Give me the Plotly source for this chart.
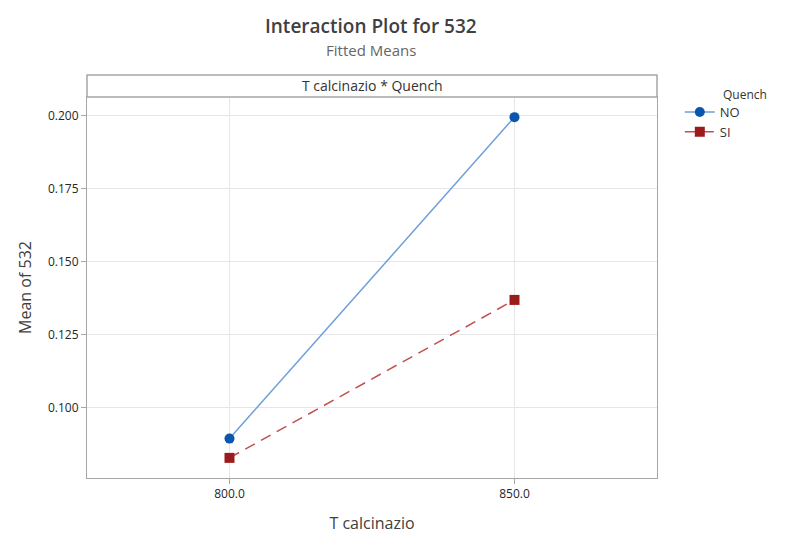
import plotly.graph_objects as go

# Fitted means for the T calcinazio * Quench interaction
t_levels = [800, 850]
t_labels = ["800.0", "850.0"]
mean_no = [0.0895, 0.1996]
mean_si = [0.0829, 0.1370]
y_ticks = [0.100, 0.125, 0.150, 0.175, 0.200]
y_tick_labels = ["0.100", "0.125", "0.150", "0.175", "0.200"]

FONT = "Open Sans, Noto Sans, sans-serif"
FRAME = "#a6a6a6"

fig = go.Figure()
fig.add_trace(go.Scatter(
    x=t_levels, y=mean_no, name="NO", mode="lines+markers",
    line=dict(color="#6f9fd8", width=1.5),
    marker=dict(symbol="circle", size=10, color="#0a56ad"),
))
fig.add_trace(go.Scatter(
    x=t_levels, y=mean_si, name="SI", mode="lines+markers",
    line=dict(color="#c0504d", width=1.5, dash="11px,7px"),
    marker=dict(symbol="square", size=10, color="#9b1a1a"),
))

fig.update_layout(
    width=788, height=535,
    margin=dict(l=87, r=131, t=97, b=57),
    paper_bgcolor="white", plot_bgcolor="white",
    font=dict(family=FONT, color="#333333"),
    showlegend=True,
    legend=dict(
        x=1.04, y=1.0, xanchor="left", yanchor="top",
        font=dict(size=13, color="#333333"),
        bgcolor="rgba(0,0,0,0)", tracegroupgap=0,
        itemwidth=30,
    ),
    xaxis=dict(
        range=[775, 875], tickvals=t_levels, ticktext=t_labels,
        showgrid=True, gridcolor="#e6e6e6", gridwidth=1,
        showline=True, linecolor=FRAME, linewidth=1, mirror=True,
        ticks="outside", ticklen=5, tickcolor=FRAME,
        tickfont=dict(size=12, color="#262626"),
        title=dict(text="T calcinazio", font=dict(size=16, color="#404040"), standoff=16),
        zeroline=False, automargin=False,
    ),
    yaxis=dict(
        range=[0.076, 0.2065], tickvals=y_ticks, ticktext=y_tick_labels,
        showgrid=True, gridcolor="#e6e6e6", gridwidth=1,
        showline=True, linecolor=FRAME, linewidth=1, mirror=True,
        ticks="outside", ticklen=5, tickcolor=FRAME,
        tickfont=dict(size=12, color="#262626"),
        title=dict(text="Mean of 532", font=dict(size=16, color="#404040"), standoff=12),
        zeroline=False, automargin=False,
    ),
)

# Header strip above the plot area
strip_top = 1 + 22 / 381
fig.add_shape(type="rect", xref="paper", yref="paper",
              x0=0, x1=1, y0=1, y1=strip_top,
              line=dict(color=FRAME, width=1.5), fillcolor="white")
fig.add_annotation(text="T calcinazio * Quench", xref="paper", yref="paper",
                   x=0.5, y=(1 + strip_top) / 2, showarrow=False,
                   font=dict(size=14, color="#333333"), yanchor="middle")

# Title and subtitle
fig.add_annotation(text="Interaction Plot for 532", xref="paper", yref="paper",
                   x=(371 - 87) / 570, y=1 + (97 - 26) / 381, showarrow=False,
                   font=dict(size=19, color="#404040", weight=600), yanchor="middle")
fig.add_annotation(text="Fitted Means", xref="paper", yref="paper",
                   x=(371 - 87) / 570, y=1 + (97 - 50) / 381, showarrow=False,
                   font=dict(size=15, color="#666666"), yanchor="middle")

# Legend heading
fig.add_annotation(text="Quench", xref="paper", yref="paper",
                   x=(721 - 87) / 570, y=1 + (97 - 94) / 381, showarrow=False,
                   xanchor="left", yanchor="middle",
                   font=dict(size=12, color="#333333"))

fig.write_html("out.html")
